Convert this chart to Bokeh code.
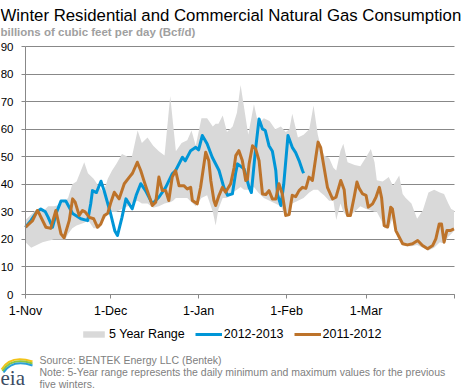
from bokeh.plotting import figure
from bokeh.models import FixedTicker, Label, Legend, LegendItem, Grid
from bokeh.embed import file_html
from bokeh.resources import INLINE

# ---- axis data ----
tick_days = [0, 30, 61, 92, 120, 151]
tick_labels = ["1-Nov", "1-Dec", "1-Jan", "1-Feb", "1-Mar", ""]
y_ticks = [0, 10, 20, 30, 40, 50, 60, 70, 80, 90]

# ---- 5 year range (days since 1-Nov) ----
band_day = [0, 2, 4, 6, 8, 10, 12, 14, 15, 16.5, 18, 20.7, 22, 24, 26, 27.5, 29, 30.5, 32, 34,
            36, 37.5, 39.5, 41, 43, 45, 47, 49, 51, 52, 53, 55, 57, 58.5, 60, 62, 64, 66, 67, 68,
            69.5, 71, 73, 74.5, 75.8, 77, 78.5, 80.5, 82, 84, 86, 88, 90, 91.7, 93, 94, 96, 98,
            100, 101.5, 103, 104, 105.2, 107, 108.5, 109.5, 111, 112, 113.5, 116, 118, 120,
            121.7, 123, 123.8, 125.8, 126.5, 128, 129.5, 131, 131.7, 132.9, 134, 136, 138, 140,
            142, 144, 146, 147.5, 149, 150, 151]
band_min = [19, 17, 18, 19, 19.5, 20, 20, 20, 22, 24, 25, 26, 27, 24, 24, 27, 29, 30, 30, 31,
            32, 33, 34, 33, 33, 31.5, 32, 33, 33.5, 34, 35, 35, 35, 33.5, 32, 35, 36, 30, 25, 31,
            35, 35, 37, 38, 39, 38, 38, 39, 37, 35, 34, 33, 32, 28, 28.5, 33, 34, 35,
            37, 38, 38, 37, 36, 34, 34, 27, 33, 30, 28, 30, 32, 31,
            30.5, 30, 30, 26, 24, 24, 28, 21, 20, 18, 17.5, 17.5, 18, 17,
            16, 17, 19, 18.5, 21, 22, 23]
band_max = [27, 29, 31, 30, 32, 32, 32.5, 34, 35, 40, 41, 48, 44, 42, 39, 37, 42, 45, 47.4, 51,
            50, 50, 59.5, 55, 57, 54, 52, 50.4, 72, 62, 52, 55, 56, 59.5, 54, 64, 64, 61, 62, 62,
            65, 59, 61, 66, 76, 68, 58, 69, 62, 64, 63, 60, 61, 59, 60, 65.6, 57, 58,
            60, 68.6, 58, 54, 50.4, 49.5, 46, 45, 52.2, 54.7, 48, 47, 46.5, 49.8,
            52.8, 48, 41.5, 41, 41.5, 42.6, 39.5, 42, 43.2, 36.5, 35, 33, 27.5, 30.5,
            37, 38, 37, 36.5, 33, 31, 30.5]

# ---- 2012-2013 ----
s1213_day = [0, 2, 4, 5.4, 7, 8, 9.5, 11, 12.5, 14.2, 15.5, 16.6, 18, 19.5, 21.9, 23, 23.6, 25,
             26.6, 27.7, 30, 31.5, 32.4, 34, 35.4, 37.6, 39, 40.6, 42.3, 44.7, 47, 49.4, 51.7,
             52.9, 55.3, 56.3, 58.2, 60, 61, 62.3, 64, 65.8, 68.2, 69.9, 71.2, 72.9, 74, 74.7,
             77, 78.8, 79.6, 81, 82.3, 83.5, 84.5, 85.8, 87, 88.2, 88.8, 90, 91, 92.5, 94, 95.2,
             96.4, 97.6, 98]
s1213_val = [24.4, 27, 30, 31, 30, 28, 24.4, 30, 33.9, 33.9, 31.5, 29.4, 28.5, 27.5, 26.8, 33, 37.7, 37,
             41.1, 37.7, 29.3, 23, 21.4, 28, 34.7, 31.1, 36, 40.2, 37.7, 32.9, 35.3, 38.9, 43.8,
             45, 49.8, 48.5, 52.2, 53.4, 52.5, 57.7, 54.7, 49.8, 45, 38.9, 36, 36.5, 43.8, 47.4,
             45.6, 38.9, 37, 52, 63.7, 60.1, 59.5, 54, 52, 45, 36.3, 32.3, 40, 57.7, 53.4, 51.5,
             48.6, 45, 44]

# ---- 2011-2012 ----
s1112_day = [0, 2.5, 4.2, 5, 7.2, 8.9, 10.7, 12.5, 13.6, 15.4, 16.6, 17.5, 18.9, 20.1, 21, 22.5, 24,
             25.4, 26.5, 27.8, 29, 30.1, 31.3, 33, 34.8, 36.6, 37.7, 39.4, 40.6, 41.7, 42.9, 44.7,
             45.9, 47, 48.2, 49.4, 50.5, 51.7, 52.9, 54.1, 55.8, 57, 58.2, 58.8, 60.5, 61.7, 63.5,
             64.6, 65.3, 66.4, 67, 68.2, 69.4, 70.5, 72.3, 73.5, 74.1, 75.2, 76.4, 77.6, 78.2,
             78.8, 80, 81.1, 82.3, 83.5, 84.7, 85.8, 87, 88.2, 89.3, 90.5, 91.7, 92.9, 94, 95.2,
             96.4, 97.6, 98.8, 99.9, 101.1, 102.3, 103.1, 104, 105.2, 106.4, 108.2, 109.4, 111.1,
             112.3, 112.9, 113.5, 114.5, 115.8, 116.8, 117.6, 118.8, 120, 120.8, 122.3, 123.5,
             124.7, 125.5, 126.4, 127.6, 128.7, 129.3, 130.5, 131.7, 132.9, 134.6, 136.4, 138.2,
             139.9, 141.7, 143.5, 144.6, 145.8, 146.6, 147.5, 148.5, 149.7, 151]
s1112_val = [24.4, 26.8, 30.5, 29, 24.4, 24, 30.5, 22, 20.6, 26.8, 34.7, 33.5, 28.7, 30.5, 30, 28, 27.5,
             24.4, 25.5, 28.7, 29.5, 33.5, 37.1, 34.7, 40.2, 42.6, 44, 48, 45, 41.4, 37.7, 32.3,
             33.5, 42.6, 37.7, 37.7, 34.1, 42.6, 45, 39.5, 39.5, 38.3, 38.9, 34.1, 32.9, 38.9, 51.6,
             48.5, 41.4, 34.1, 32.3, 36, 38.9, 37.1, 40.2, 46, 50.4, 52.2, 48.6, 41.4, 41.8,
             47.4, 54, 52.8, 48.6, 36.5, 36.3, 37.7, 34.7, 34.7, 40.2, 36.5, 28.7, 29, 36, 35.5,
             37.7, 38.9, 38.5, 42.6, 41.4, 49.8, 55.3, 53.4, 46.2, 38.9, 34.7, 35.3, 41.4,
             38, 31.7, 28.7, 28.7, 35.3, 40.8, 38.5, 36.5, 36, 31.7, 32.9, 35.3,
             38.9, 35, 25, 24.5, 31.7, 31, 23.2, 20.8, 18.4, 18, 18.4, 19.6,
             17.8, 16.6, 17.8, 20.2, 25.6, 25.6, 19, 23.2, 23.2, 23.8]

# ---- texts ----
title_text = "Winter Residential and Commercial Natural Gas Consumption"
subtitle_text = "billions of cubic feet per day (Bcf/d)"
note_lines = ["Source: BENTEK Energy LLC (Bentek)",
              "Note: 5-Year range represents the daily minimum and maximum values for the previous",
              "five winters."]

FONT = "Liberation Sans"
GRID = "#888888"
BLUE = "#0096d7"
BROWN = "#bd732a"
BAND = "#d9d9d9"

# ---- layout (canvas pixels) ----
CW, CH = 468, 388
X0_PX, X1_PX = 25, 453.5    # canvas x of first / last day
Y90_PX, Y0_PX = 46, 294     # canvas y of 90 and 0
XMAX = tick_days[-1]
YMAX = y_ticks[-1]
sx = (X1_PX - X0_PX) / XMAX
sy = (Y0_PX - Y90_PX) / YMAX


def dx(px):
    return (px - X0_PX) / sx


def dy(py):
    return (Y0_PX - py) / sy


p = figure(width=CW, height=CH, x_range=(dx(0), dx(CW)), y_range=(dy(CH), dy(0)),
           output_backend="svg", toolbar_location=None, min_border=0)
p.outline_line_color = None
p.background_fill_color = "white"
p.border_fill_color = "white"

# grid
p.xgrid.visible = False
yg = p.ygrid[0]
yg.ticker = FixedTicker(ticks=y_ticks)
yg.grid_line_color = GRID
yg.grid_line_width = 1
if "cross_bounds" in Grid.properties():
    yg.cross_bounds = (0, XMAX)
else:
    yg.visible = False
    p.segment(x0=[0] * len(y_ticks), y0=y_ticks, x1=[XMAX] * len(y_ticks), y1=y_ticks,
              line_color=GRID, line_width=1)

# axes placed at the data origin
p.yaxis.fixed_location = 0
p.yaxis.bounds = (0, YMAX)
p.yaxis.ticker = FixedTicker(ticks=y_ticks)
p.yaxis.major_label_text_font = FONT
p.yaxis.major_label_text_font_size = "11.5px"
p.yaxis.major_label_text_color = "#000000"
p.yaxis.major_label_standoff = 8
p.yaxis.major_tick_out = 4
p.yaxis.major_tick_in = 0
p.yaxis.minor_tick_line_color = None
p.yaxis.axis_line_color = GRID
p.yaxis.major_tick_line_color = GRID

p.xaxis.fixed_location = 0
p.xaxis.bounds = (0, XMAX)
p.xaxis.ticker = FixedTicker(ticks=tick_days)
p.xaxis.major_label_overrides = {d: lab for d, lab in zip(tick_days, tick_labels)}
p.xaxis.major_label_text_font = FONT
p.xaxis.major_label_text_font_size = "12.5px"
p.xaxis.major_label_text_color = "#000000"
p.xaxis.major_label_standoff = 5
p.xaxis.major_tick_out = 4
p.xaxis.major_tick_in = 0
p.xaxis.minor_tick_line_color = None
p.xaxis.axis_line_color = GRID
p.xaxis.major_tick_line_color = GRID

r_band = p.varea(x=band_day, y1=band_min, y2=band_max, fill_color=BAND, fill_alpha=1)
r_blue = p.line(s1213_day, s1213_val, line_color=BLUE, line_width=3, line_join="round")
r_brown = p.line(s1112_day, s1112_val, line_color=BROWN, line_width=3, line_join="round")

legend = Legend(items=[LegendItem(label="5 Year Range", renderers=[r_band]),
                       LegendItem(label="2012-2013", renderers=[r_blue]),
                       LegendItem(label="2011-2012", renderers=[r_brown])],
                orientation="horizontal", location=(80, CH - 341),
                glyph_width=27, glyph_height=8, label_height=14, label_standoff=2,
                spacing=10, padding=0, margin=0,
                label_text_font=FONT, label_text_font_size="12.5px", label_text_color="#000000",
                background_fill_alpha=0, border_line_color=None)
p.add_layout(legend)


def lab(text, px, py, size, color, style="normal", font=FONT):
    p.add_layout(Label(x=dx(px), y=dy(py), text=text, text_font=font, text_font_size=size,
                       text_color=color, text_font_style=style,
                       text_baseline="alphabetic", text_align="left"))


lab(title_text, 0, 15, "16.8px", "#000000")
lab(subtitle_text, 0, 31, "11.5px", "#a0a0a0", "bold")
for i, line in enumerate(note_lines):
    lab(line, 39, 359 + 12 * i, "10.5px", "#808080")

# eia logo
p.quadratic(x0=[dx(1), dx(2), dx(3)], y0=[dy(369), dy(370.5), dy(372)],
            x1=[dx(32), dx(32), dx(32)], y1=[dy(361), dy(363), dy(365)],
            cx=[dx(10), dx(11), dx(12)], cy=[dy(354), dy(356), dy(358)],
            line_color=["#f2c318", "#8dc63f", "#2a9fd6"], line_width=2)
lab("eia", 0, 377, "21px", "#3b4b63", font="Liberation Serif")

open("out.html", "w").write(file_html(p, INLINE))
